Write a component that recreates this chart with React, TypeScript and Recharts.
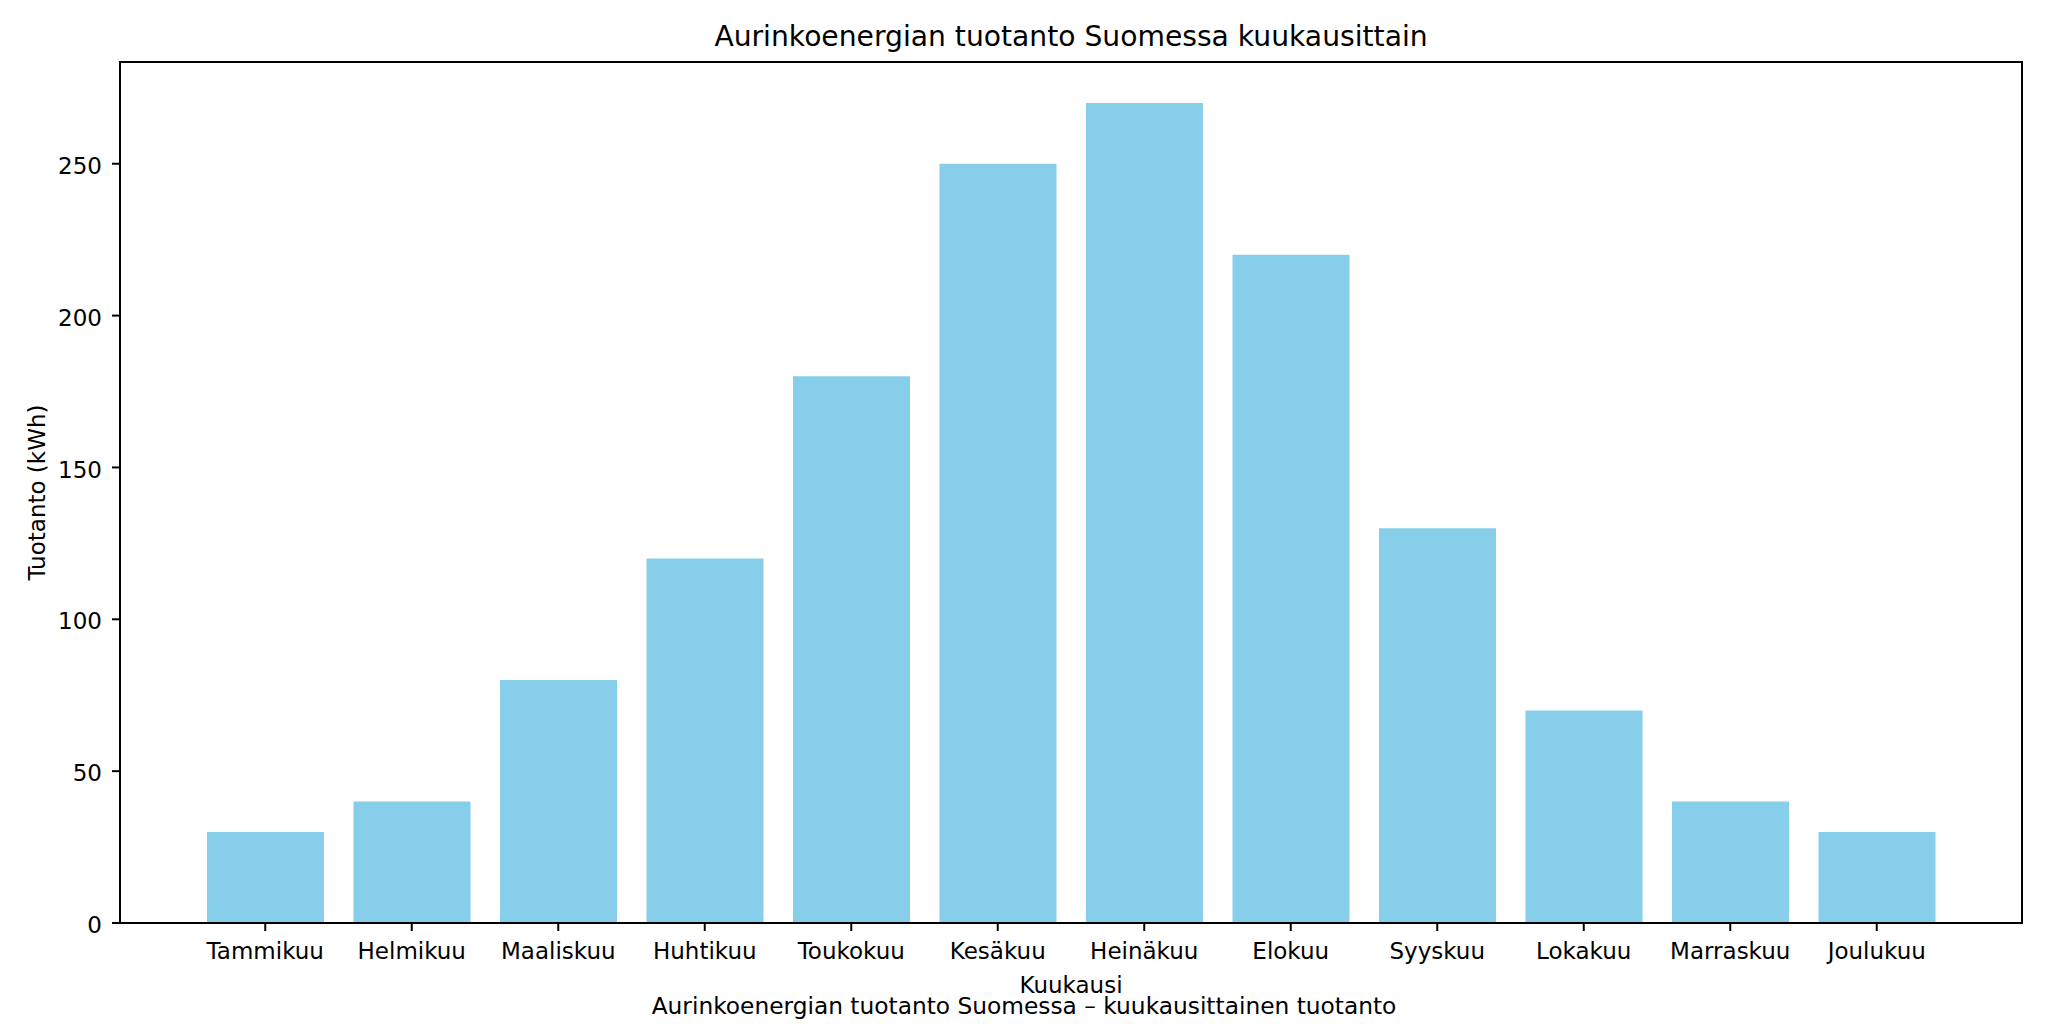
import { BarChart, Bar, XAxis, YAxis, Label } from "recharts";

const months = [
  "Tammikuu",
  "Helmikuu",
  "Maaliskuu",
  "Huhtikuu",
  "Toukokuu",
  "Kesäkuu",
  "Heinäkuu",
  "Elokuu",
  "Syyskuu",
  "Lokakuu",
  "Marraskuu",
  "Joulukuu",
];
const production = [30, 40, 80, 120, 180, 250, 270, 220, 130, 70, 40, 30];
const yTicks = [0, 50, 100, 150, 200, 250];

const data = months.map((month, i) => ({ month, value: production[i] }));

const FONT = "'DejaVu Sans', sans-serif";
const W = 2048;
const H = 1024;
const M = { top: 62, right: 26, left: 0, bottom: 0 };
const Y_AXIS_W = 120;
const X_AXIS_H = 101;

function renderYLabel(props: any) {
  const vb = props.viewBox || { x: 0, y: M.top, width: Y_AXIS_W, height: 861 };
  const cx = vb.x + 45;
  const cy = vb.y + vb.height / 2;
  return (
    <text
      x={cx}
      y={cy}
      transform={`rotate(-90 ${cx} ${cy})`}
      textAnchor="middle"
      fontSize={23}
      fontFamily={FONT}
      fill="#000"
    >
      Tuotanto (kWh)
    </text>
  );
}

export default function App() {
  const plotLeft = M.left + Y_AXIS_W;
  const plotWidth = W - plotLeft - M.right;
  const plotHeight = H - M.top - M.bottom - X_AXIS_H;
  return (
    <div style={{ position: "absolute", left: 0, top: 0, width: W, height: H, background: "#fff", fontFamily: FONT }}>
      <div
        style={{
          position: "absolute",
          left: plotLeft,
          width: plotWidth,
          top: 23,
          textAlign: "center",
          fontSize: 28.2,
          lineHeight: "28px",
          color: "#000",
          whiteSpace: "nowrap",
        }}
      >
        Aurinkoenergian tuotanto Suomessa kuukausittain
      </div>
      <BarChart width={W} height={H} data={data} margin={M}>
        <XAxis
          dataKey="month"
          height={X_AXIS_H}
          padding={{ left: 72, right: 72 }}
          axisLine={{ stroke: "#000", strokeWidth: 2 }}
          tickLine={{ stroke: "#000", strokeWidth: 2 }}
          tickSize={8}
          tickMargin={12}
          interval={0}
          tick={{ fill: "#000", fontSize: 23, fontFamily: FONT }}
        >
          <Label
            value="Kuukausi"
            position="insideBottom"
            offset={31}
            fill="#000"
            fontSize={23}
            fontFamily={FONT}
          />
        </XAxis>
        <YAxis
          width={Y_AXIS_W}
          domain={[0, 283.5]}
          ticks={yTicks}
          axisLine={{ stroke: "#000", strokeWidth: 2 }}
          tickLine={{ stroke: "#000", strokeWidth: 2 }}
          tickSize={8}
          tickMargin={10}
          tick={{ fill: "#000", fontSize: 23, fontFamily: FONT, dy: 2 }}
        >
          <Label content={renderYLabel} />
        </YAxis>
        <Bar dataKey="value" fill="#87CEEB" barSize={117} isAnimationActive={false} />
      </BarChart>
      {/* top and right spines of the axes box */}
      <div
        style={{
          position: "absolute",
          left: plotLeft - 1,
          top: M.top - 1,
          width: plotWidth,
          height: plotHeight,
          borderTop: "2px solid #000",
          borderRight: "2px solid #000",
          pointerEvents: "none",
        }}
      />
      <div
        style={{
          position: "absolute",
          left: 0,
          width: W,
          top: 994,
          textAlign: "center",
          fontSize: 23.3,
          lineHeight: "23px",
          color: "#000",
          whiteSpace: "nowrap",
        }}
      >
        Aurinkoenergian tuotanto Suomessa – kuukausittainen tuotanto
      </div>
    </div>
  );
}
